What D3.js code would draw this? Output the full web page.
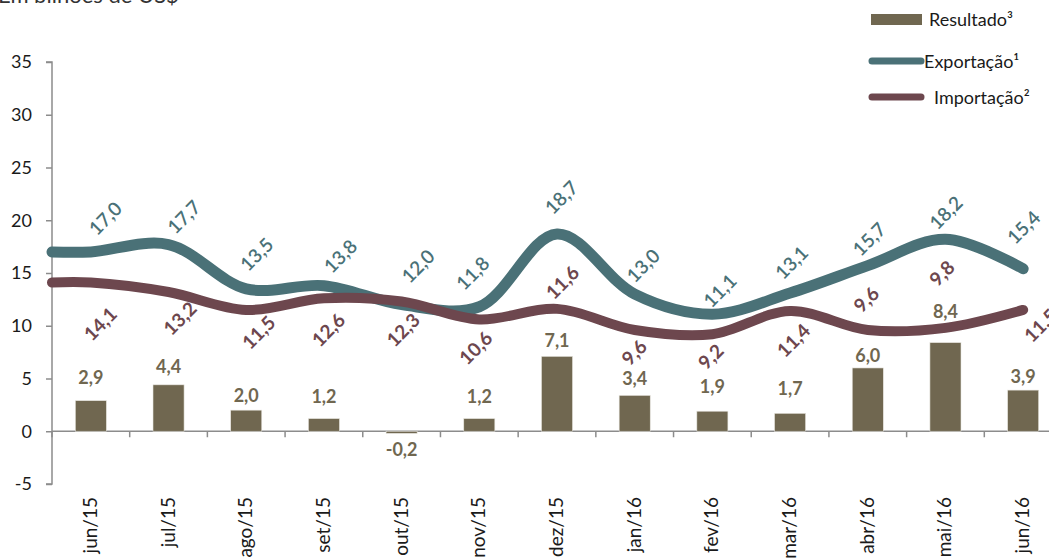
<!DOCTYPE html>
<html><head><meta charset="utf-8">
<script src="https://cdn.jsdelivr.net/npm/d3@7"></script>
<style>body{margin:0;background:#fff}svg{display:block}text{font-family:Lato,"Open Sans",sans-serif}</style>
</head><body>
<svg id="c" width="1049" height="558"></svg>
<script>
const categories = ['jun/15','jul/15','ago/15','set/15','out/15','nov/15','dez/15','jan/16','fev/16','mar/16','abr/16','mai/16','jun/16'];
const exportacao = [17.0,17.7,13.5,13.8,12.0,11.8,18.7,13.0,11.1,13.1,15.7,18.2,15.4];
const importacao = [14.1,13.2,11.5,12.6,12.3,10.6,11.6,9.6,9.2,11.4,9.6,9.8,11.5];
const resultado = [2.9,4.4,2.0,1.2,-0.2,1.2,7.1,3.4,1.9,1.7,6.0,8.4,3.9];
const yTicks = [-5,0,5,10,15,20,25,30,35];
const title = 'Em bilhões de US$';
const legendNames = ['Resultado³','Exportação¹','Importação²'];

// label nudges (pixels) – layout only
const exportNudge = [[14,-34],[15,-28],[10,-35],[16,-30],[16,-39],[-7,-34],[4,-37],[8,-29],[7,-24],[1,-31],[1,-27],[0,-27],[0,-42]];
const importNudge = [[9,41],[11,26],[12,22],[4,31],[1,28],[-4,28],[5,-27],[-1,22],[-2,22],[3,29],[-2,-31],[-4,-55],[17,15]];
const barNudge = [-17,-12,-8,-16,25,-16,-9,-10,-18,-18,-6,-25,-7];

const C = {bar:'#706750', exp:'#4a7177', imp:'#6d474e', axis:'#8c8c8c', txt:'#1a1a1a'};
const fmt = v => d3.format('.1f')(v).replace('.', ',').replace('−','-');

const svg = d3.select('#c');
const x = d3.scaleBand().domain(categories).range([52, 1062]).padding(0);
const y = d3.scaleLinear().domain([-5, 35]).range([484, 62]);
const bw = x.bandwidth();
const cx = c => x(c) + bw / 2;

// title
svg.append('text').attr('x', -2).attr('y', 3).attr('font-size', 22).attr('fill', '#333').text(title);

// y axis
const ya = svg.append('g').attr('transform', 'translate(52,0)')
  .call(d3.axisLeft(y).tickValues(yTicks).tickSize(6).tickPadding(14).tickFormat(d => d));
ya.select('.domain').attr('stroke', C.axis).attr('stroke-width', 1.5).attr('d', `M-6,${y(35)}H0V${y(-5)}H-6`);
ya.selectAll('.tick line').attr('stroke', C.axis).attr('stroke-width', 1.5);
ya.selectAll('.tick text').attr('font-size', 18).attr('fill', C.txt).attr('font-family', 'Lato');

// x axis line at zero
const y0 = y(0);
svg.append('line').attr('x1', 52).attr('x2', 1062).attr('y1', y0).attr('y2', y0)
  .attr('stroke', C.axis).attr('stroke-width', 1.5);
svg.selectAll('.xt').data(categories.slice(1).concat(['end'])).enter().append('line')
  .attr('x1', (d, i) => x(categories[0]) + (i + 1) * bw).attr('x2', (d, i) => x(categories[0]) + (i + 1) * bw)
  .attr('y1', y0).attr('y2', y0 + 6).attr('stroke', C.axis).attr('stroke-width', 1.5);
svg.append('line').attr('x1', 52).attr('x2', 52).attr('y1', y0).attr('y2', y0 + 6).attr('stroke', C.axis).attr('stroke-width', 1.5);

// x labels
svg.selectAll('.xl').data(categories).enter().append('text')
  .attr('transform', d => `translate(${cx(d) + 6},${y(-5) + 13}) rotate(-90)`)
  .attr('text-anchor', 'end').attr('font-size', 19).attr('fill', C.txt).text(d => d);

// bars
const barW = bw * 0.4;
svg.selectAll('.bar').data(resultado).enter().append('rect')
  .attr('x', (d, i) => cx(categories[i]) - barW / 2)
  .attr('y', d => y(Math.max(0, d)))
  .attr('width', barW)
  .attr('height', d => Math.abs(y(d) - y0))
  .attr('fill', C.bar).attr('stroke', '#e8e6e0').attr('stroke-width', 0.6);

// lines
const line = d3.line().curve(d3.curveCatmullRom.alpha(0.5));
function pts(arr) {
  const p = arr.map((v, i) => [cx(categories[i]), y(v)]);
  return [[x.range()[0], y(arr[0])]].concat(p);
}
svg.append('path').attr('d', line(pts(exportacao))).attr('fill', 'none')
  .attr('stroke', C.exp).attr('stroke-width', 11).attr('stroke-linecap', 'round');
svg.append('path').attr('d', line(pts(importacao))).attr('fill', 'none')
  .attr('stroke', C.imp).attr('stroke-width', 10).attr('stroke-linecap', 'round');

// bar labels
svg.selectAll('.bl').data(resultado).enter().append('text')
  .attr('x', (d, i) => cx(categories[i]))
  .attr('y', (d, i) => (d >= 0 ? y(d) : y0) + barNudge[i])
  .attr('text-anchor', 'middle').attr('font-size', 18).attr('font-weight', 700)
  .attr('fill', C.bar).text(d => fmt(d));

// line labels
function lineLabels(arr, nudge, color, weight) {
  svg.selectAll(null).data(arr).enter().append('text')
    .attr('transform', (d, i) => `translate(${cx(categories[i]) + nudge[i][0]},${y(d) + nudge[i][1]}) rotate(-45)`)
    .attr('text-anchor', 'middle').attr('dominant-baseline', 'central')
    .attr('font-size', 19).attr('font-weight', weight).attr('fill', color).text(d => fmt(d));
}
lineLabels(exportacao, exportNudge, C.exp, 600);
lineLabels(importacao, importNudge, C.imp, 700);

// legend
const lg = svg.append('g');
lg.append('rect').attr('x', 871).attr('y', 14).attr('width', 51).attr('height', 11).attr('fill', C.bar);
lg.append('line').attr('x1', 872).attr('x2', 921).attr('y1', 61).attr('y2', 61)
  .attr('stroke', C.exp).attr('stroke-width', 7).attr('stroke-linecap', 'round');
lg.append('line').attr('x1', 872).attr('x2', 921).attr('y1', 97).attr('y2', 97)
  .attr('stroke', C.imp).attr('stroke-width', 7).attr('stroke-linecap', 'round');
const lgPos = [[929, 19], [924, 61], [934, 97]];
legendNames.forEach((n, i) => lg.append('text').attr('x', lgPos[i][0]).attr('y', lgPos[i][1])
  .attr('dominant-baseline', 'central').attr('font-size', 18).attr('fill', C.txt).text(n));
</script>
</body></html>
